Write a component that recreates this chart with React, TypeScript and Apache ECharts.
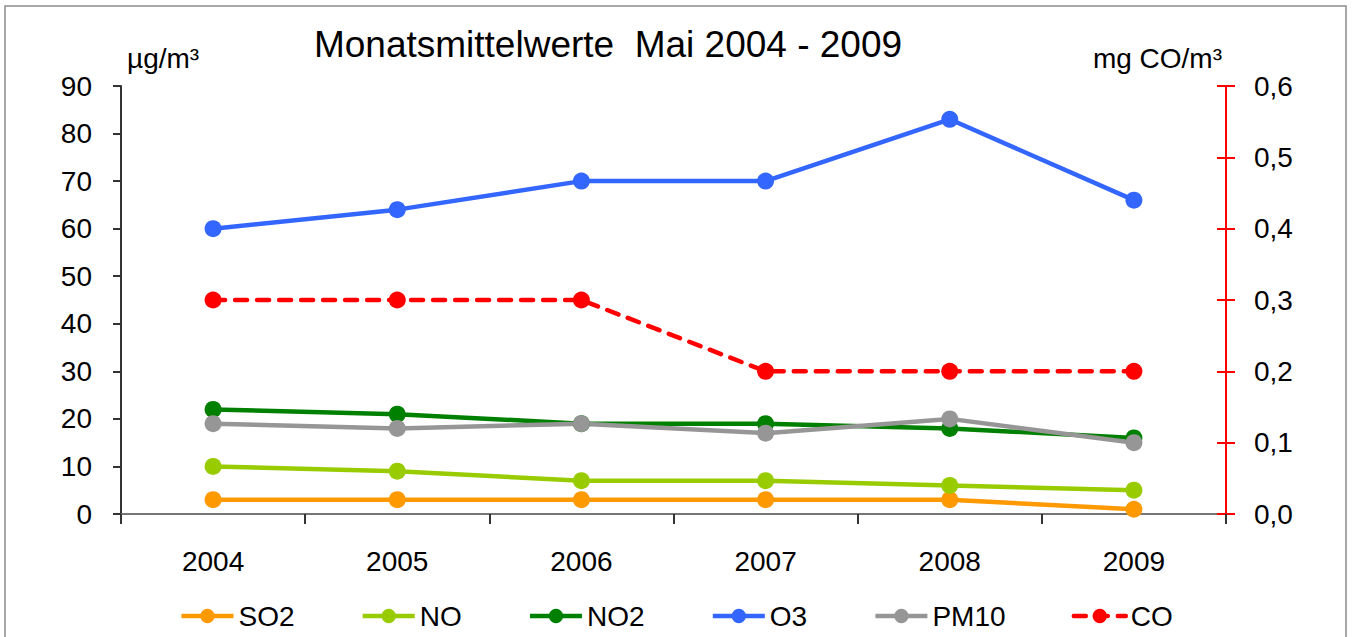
import React, { useEffect, useRef } from "react";
import * as echarts from "echarts";

const years = ["2004", "2005", "2006", "2007", "2008", "2009"];
const so2 = [3, 3, 3, 3, 3, 1];
const no = [10, 9, 7, 7, 6, 5];
const no2 = [22, 21, 19, 19, 18, 16];
const o3 = [60, 64, 70, 70, 83, 66];
const pm10 = [19, 18, 19, 17, 20, 15];
const co = [0.3, 0.3, 0.3, 0.2, 0.2, 0.2];

const FONT = "Liberation Sans, Arial, sans-serif";

export default function App() {
  const ref = useRef<HTMLDivElement>(null);
  useEffect(() => {
    if (!ref.current) return;
    const chart = echarts.init(ref.current, null, { renderer: "svg" });
    const mk = (name: string, data: number[], color: string, extra: any = {}) => ({
      name,
      type: "line",
      data,
      symbol: "circle",
      symbolSize: 17,
      itemStyle: { color },
      lineStyle: { color, width: 4.5 },
      ...extra,
    });
    chart.setOption({
      animation: false,
      backgroundColor: "#fff",
      textStyle: { fontFamily: FONT },
      title: [
        {
          text: "Monatsmittelwerte  Mai 2004 - 2009",
          left: 608,
          textAlign: "center",
          top: 26,
          padding: 0,
          textStyle: { fontSize: 37, fontWeight: "normal", color: "#000", fontFamily: FONT },
        },
        {
          text: "µg/m³",
          left: 127,
          top: 44,
          padding: 0,
          textStyle: { fontSize: 28, fontWeight: "normal", color: "#000", fontFamily: FONT },
        },
        {
          text: "mg CO/m³",
          right: 130,
          top: 44,
          padding: 0,
          textStyle: { fontSize: 28, fontWeight: "normal", color: "#000", fontFamily: FONT },
        },
      ],
      graphic: [
        {
          type: "rect",
          shape: { x: 5, y: 6, width: 1341, height: 700 },
          style: { fill: "none", stroke: "#8c8c8c", lineWidth: 1.5 },
          silent: true,
        },
      ],
      legend: {
        left: "center",
        top: 597,
        itemWidth: 52,
        itemHeight: 18,
        itemGap: 66,
        lineStyle: { width: 4.5 },
        textStyle: { fontSize: 28, color: "#000", fontFamily: FONT },
        data: ["SO2", "NO", "NO2", "O3", "PM10", "CO"],
      },
      grid: { left: 121, right: 126, top: 86, bottom: 123, containLabel: false },
      xAxis: [
        {
          type: "category",
          data: years,
          boundaryGap: true,
          axisLine: { lineStyle: { color: "#333", width: 2 } },
          axisTick: { show: true, length: 10, lineStyle: { color: "#333", width: 2 } },
          axisLabel: { fontSize: 28, color: "#000", margin: 33, fontFamily: FONT },
          splitLine: { show: false },
        },
        {
          type: "category",
          data: years,
          position: "top",
          axisLine: { lineStyle: { color: "#8c8c8c", width: 1.5 } },
          axisTick: { show: false },
          axisLabel: { show: false },
          splitLine: { show: false },
        },
      ],
      yAxis: [
        {
          type: "value",
          min: 0,
          max: 90,
          interval: 10,
          position: "left",
          axisLine: { show: true, lineStyle: { color: "#333", width: 2 } },
          axisTick: { show: true, length: 8, lineStyle: { color: "#333", width: 2 } },
          axisLabel: { fontSize: 28, color: "#000", margin: 29, fontFamily: FONT },
          splitLine: { show: false },
        },
        {
          type: "value",
          min: 0,
          max: 0.6,
          interval: 0.1,
          position: "right",
          axisLine: { show: true, lineStyle: { color: "#ff0000", width: 2 } },
          axisTick: { show: true, length: 9, lineStyle: { color: "#ff0000", width: 2 } },
          axisLabel: {
            fontSize: 28,
            color: "#000",
            margin: 28,
            fontFamily: FONT,
            formatter: (v: number) => v.toFixed(1).replace(".", ","),
          },
          splitLine: { show: false },
        },
        {
          type: "value",
          min: 0,
          max: 0.6,
          interval: 0.1,
          position: "right",
          axisLine: { show: false },
          axisTick: { show: true, inside: true, length: 9, lineStyle: { color: "#ff0000", width: 2 } },
          axisLabel: { show: false },
          splitLine: { show: false },
        },
      ],
      series: [
        mk("SO2", so2, "#FF9900"),
        mk("NO", no, "#99CC00"),
        mk("NO2", no2, "#008000"),
        mk("O3", o3, "#3366FF"),
        mk("PM10", pm10, "#969696"),
        mk("CO", co, "#FF0000", {
          yAxisIndex: 1,
          lineStyle: { color: "#FF0000", width: 4.5, type: [12, 10], cap: "round" },
        }),
      ],
    });
    return () => chart.dispose();
  }, []);
  return (
    <div
      ref={ref}
      style={{ position: "absolute", left: 0, top: 0, width: 1352, height: 637 }}
    />
  );
}
